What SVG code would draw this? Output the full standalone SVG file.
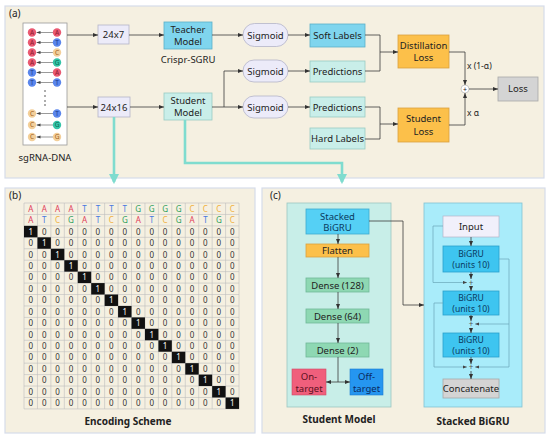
<svg xmlns="http://www.w3.org/2000/svg" width="550" height="443" viewBox="0 0 550 443">
<defs>
<marker id="ah" viewBox="0 0 10 10" refX="10" refY="5" markerWidth="5" markerHeight="5" orient="auto-start-reverse" markerUnits="userSpaceOnUse"><path d="M0,1 L10,5 L0,9 z" fill="#333"/></marker>
<marker id="ahs" viewBox="0 0 10 10" refX="10" refY="5" markerWidth="4" markerHeight="4" orient="auto-start-reverse" markerUnits="userSpaceOnUse"><path d="M0,1 L10,5 L0,9 z" fill="#444"/></marker>
<marker id="tah" viewBox="0 0 10 10" refX="8" refY="5" markerWidth="4" markerHeight="4" orient="auto"><path d="M0,0 L10,5 L0,10 z" fill="#7fdccf"/></marker>
</defs>
<style>
text{font-family:"Noto Sans","Open Sans","DejaVu Sans",sans-serif;fill:#222;}
.t{font-size:9.5px;text-anchor:middle;}
.u{font-size:8.6px;text-anchor:middle;fill:#0a3a60;}
.s{font-size:8.5px;text-anchor:middle;}
.lbl{font-size:10px;}
.b{font-size:10px;font-weight:bold;text-anchor:middle;}
.panel{fill:#f5f0e1;stroke:#d6dcea;stroke-width:1.2;}
.ln{fill:none;stroke:#3a3a3a;stroke-width:0.8;}
.la{fill:none;stroke:#3a3a3a;stroke-width:0.8;marker-end:url(#ah);}
.ska{fill:none;stroke:#6aa8b8;stroke-width:0.7;marker-end:url(#ahs);}
.teal{fill:none;stroke:#7fdccf;stroke-width:2.6;marker-end:url(#tah);}
.lav{fill:#ecebf9;stroke:#b4b4c8;stroke-width:0.8;}
.blue{fill:#7fd5ee;stroke:#5ab0c8;stroke-width:0.8;}
.mint{fill:#c9eee9;stroke:#98cbc3;stroke-width:0.8;}
.org{fill:#fcc04a;stroke:#d9a040;stroke-width:0.8;}
.grey{fill:#d4d4d4;stroke:#a8a8a8;stroke-width:0.8;}
.dense{fill:#8ed8b3;stroke:#70b898;stroke-width:0.8;}
.bigru{fill:#3ec5f0;stroke:#2aa0cc;stroke-width:0.8;}
.cA{fill:#ea5a72;} .cT{fill:#5a86ec;} .cC{fill:#f3cf9a;} .cG{fill:#34c4a8;}
.xA{fill:#e0405a;} .xT{fill:#4878e0;} .xG{fill:#30a060;} .xC{fill:#f0b040;}
.cl{font-size:6.5px;text-anchor:middle;}
.cell{font-size:8px;text-anchor:middle;fill:#333;}
.one{fill:#fff;}
.dl{stroke:#555;stroke-width:0.6;fill:none;marker-start:url(#ahs);}
</style>

<g id="panel-a">
<rect class="panel" x="5" y="6" width="539" height="172"/>
<text class="lbl" x="9" y="17">(a)</text>
</g>
<g id="panel-b">
<rect class="panel" x="5" y="188" width="250" height="245"/>
<text class="lbl" x="9" y="199">(b)</text>
</g>
<g id="panel-c">
<rect class="panel" x="262" y="188" width="283" height="245"/>
<text class="lbl" x="270" y="199">(c)</text>
</g>

<g id="sgRNA-DNA">
<rect x="23" y="23" width="44" height="122" fill="#fff" stroke="#9a9a9a" stroke-width="0.8"/>
<g>
<line class="dl" x1="36.5" y1="32.5" x2="53" y2="32.5"/>
<line class="dl" x1="36.5" y1="42.5" x2="53" y2="42.5"/>
<line class="dl" x1="36.5" y1="52.5" x2="53" y2="52.5"/>
<line class="dl" x1="36.5" y1="62.5" x2="53" y2="62.5"/>
<line class="dl" x1="36.5" y1="72.5" x2="53" y2="72.5"/>
<line class="dl" x1="36.5" y1="82.5" x2="53" y2="82.5"/>
<line class="dl" x1="36.5" y1="113.5" x2="53" y2="113.5"/>
<line class="dl" x1="36.5" y1="125" x2="53" y2="125"/>
<line class="dl" x1="36.5" y1="137" x2="53" y2="137"/>
</g>
<circle class="cA" cx="32" cy="32.5" r="4.2"/><circle class="cA" cx="57" cy="32.5" r="4.2"/>
<circle class="cA" cx="32" cy="42.5" r="4.2"/><circle class="cT" cx="57" cy="42.5" r="4.2"/>
<circle class="cA" cx="32" cy="52.5" r="4.2"/><circle class="cC" cx="57" cy="52.5" r="4.2"/>
<circle class="cA" cx="32" cy="62.5" r="4.2"/><circle class="cG" cx="57" cy="62.5" r="4.2"/>
<circle class="cT" cx="32" cy="72.5" r="4.2"/><circle class="cA" cx="57" cy="72.5" r="4.2"/>
<circle class="cT" cx="32" cy="82.5" r="4.2"/><circle class="cT" cx="57" cy="82.5" r="4.2"/>
<circle class="cC" cx="32" cy="113.5" r="4.2"/><circle class="cT" cx="57" cy="113.5" r="4.2"/>
<circle class="cC" cx="32" cy="125" r="4.2"/><circle class="cG" cx="57" cy="125" r="4.2"/>
<circle class="cC" cx="32" cy="137" r="4.2"/><circle class="cC" cx="57" cy="137" r="4.2"/>
<g fill="#444">
<circle cx="45" cy="91" r="0.8"/><circle cx="45" cy="96" r="0.8"/><circle cx="45" cy="101" r="0.8"/><circle cx="45" cy="105" r="0.8"/>
</g>
<text class="cl" style="fill:#8a1a30" x="32" y="34.8">A</text><text class="cl" style="fill:#8a1a30" x="57" y="34.8">A</text>
<text class="cl" style="fill:#8a1a30" x="32" y="44.8">A</text><text class="cl" style="fill:#1a3a8a" x="57" y="44.8">T</text>
<text class="cl" style="fill:#8a1a30" x="32" y="54.8">A</text><text class="cl" style="fill:#a06020" x="57" y="54.8">C</text>
<text class="cl" style="fill:#8a1a30" x="32" y="64.8">A</text><text class="cl" style="fill:#0a6a50" x="57" y="64.8">G</text>
<text class="cl" style="fill:#1a3a8a" x="32" y="74.8">T</text><text class="cl" style="fill:#8a1a30" x="57" y="74.8">A</text>
<text class="cl" style="fill:#1a3a8a" x="32" y="84.8">T</text><text class="cl" style="fill:#1a3a8a" x="57" y="84.8">T</text>
<text class="cl" style="fill:#a06020" x="32" y="115.8">C</text><text class="cl" style="fill:#1a3a8a" x="57" y="115.8">T</text>
<text class="cl" style="fill:#a06020" x="32" y="127.3">C</text><text class="cl" style="fill:#0a6a50" x="57" y="127.3">G</text>
<text class="cl" style="fill:#a06020" x="32" y="139.3">C</text><text class="cl" style="fill:#a06020" x="57" y="139.3">G</text>
<text class="t" x="45" y="161">sgRNA-DNA</text>
</g>

<g id="in-24x7"><rect class="lav" x="98" y="25" width="31" height="19"/><text class="t" x="113.5" y="38.3">24x7</text></g>
<g id="in-24x16"><rect class="lav" x="98" y="97" width="32" height="20"/><text class="t" x="114" y="110.5">24x16</text></g>
<g id="teacher"><rect class="blue" x="164" y="22" width="48" height="27"/><text class="t" x="188" y="33">Teacher</text><text class="t" x="188" y="45">Model</text>
<text class="t" x="188" y="63">Crispr-SGRU</text></g>
<g id="student"><rect class="mint" x="164" y="93" width="48" height="27"/><text class="t" x="188" y="104">Student</text><text class="t" x="188" y="116">Model</text></g>
<g id="sigmoid1"><rect class="lav" x="243" y="23.5" width="45" height="23" rx="11.5"/><text class="t" x="265.5" y="38.5">Sigmoid</text></g>
<g id="sigmoid2"><rect class="lav" x="243" y="60" width="45" height="22" rx="11"/><text class="t" x="265.5" y="74.5">Sigmoid</text></g>
<g id="sigmoid3"><rect class="lav" x="243" y="96" width="45" height="22" rx="11"/><text class="t" x="265.5" y="110.5">Sigmoid</text></g>
<g id="soft-labels"><rect class="blue" x="310" y="24" width="55" height="23"/><text class="t" x="337.5" y="38.8">Soft Labels</text></g>
<g id="predictions1"><rect class="mint" x="310" y="61" width="55" height="21"/><text class="t" x="337.5" y="74.8">Predictions</text></g>
<g id="predictions2"><rect class="mint" x="310" y="97" width="55" height="20"/><text class="t" x="337.5" y="110.5">Predictions</text></g>
<g id="hard-labels"><rect class="mint" x="310" y="128" width="55" height="21"/><text class="t" x="337.5" y="141.8">Hard Labels</text></g>
<g id="distillation-loss"><rect class="org" x="398" y="35" width="51" height="33"/><text class="t" x="423.5" y="49">Distillation</text><text class="t" x="423.5" y="61">Loss</text></g>
<g id="student-loss"><rect class="org" x="398" y="108" width="51" height="34"/><text class="t" x="423.5" y="122">Student</text><text class="t" x="423.5" y="134.5">Loss</text></g>
<g id="sum"><circle cx="465" cy="89" r="4" fill="#fff" stroke="#aaa" stroke-width="0.6"/><text class="s" x="465" y="91.5" style="font-size:7px">+</text>
<text x="467" y="69" style="font-size:8.5px">x (1-α)</text><text x="467" y="116" style="font-size:8.5px">x α</text></g>
<g id="loss"><rect class="grey" x="498" y="77" width="40" height="24"/><text class="t" x="518" y="92.3">Loss</text></g>

<g id="grid">
<path fill="none" stroke="#bdbdbd" stroke-width="0.6" d="M24,203V408.9 M37.44,203V408.9 M50.88,203V408.9 M64.32,203V408.9 M77.76,203V408.9 M91.2,203V408.9 M104.64,203V408.9 M118.08,203V408.9 M131.52,203V408.9 M144.96,203V408.9 M158.4,203V408.9 M171.84,203V408.9 M185.28,203V408.9 M198.72,203V408.9 M212.16,203V408.9 M225.6,203V408.9 M239.04,203V408.9 M24,203H239 M24,214.44H239 M24,225.88H239 M24,237.32H239 M24,248.76H239 M24,260.2H239 M24,271.64H239 M24,283.08H239 M24,294.52H239 M24,305.96H239 M24,317.4H239 M24,328.84H239 M24,340.28H239 M24,351.72H239 M24,363.16H239 M24,374.6H239 M24,386.04H239 M24,397.48H239 M24,408.92H239"/>
<g fill="#111">
<rect x="24" y="225.88" width="13.44" height="11.44"/>
<rect x="37.44" y="237.32" width="13.44" height="11.44"/>
<rect x="50.88" y="248.76" width="13.44" height="11.44"/>
<rect x="64.32" y="260.2" width="13.44" height="11.44"/>
<rect x="77.76" y="271.64" width="13.44" height="11.44"/>
<rect x="91.2" y="283.08" width="13.44" height="11.44"/>
<rect x="104.64" y="294.52" width="13.44" height="11.44"/>
<rect x="118.08" y="305.96" width="13.44" height="11.44"/>
<rect x="131.52" y="317.4" width="13.44" height="11.44"/>
<rect x="144.96" y="328.84" width="13.44" height="11.44"/>
<rect x="158.4" y="340.28" width="13.44" height="11.44"/>
<rect x="171.84" y="351.72" width="13.44" height="11.44"/>
<rect x="185.28" y="363.16" width="13.44" height="11.44"/>
<rect x="198.72" y="374.6" width="13.44" height="11.44"/>
<rect x="212.16" y="386.04" width="13.44" height="11.44"/>
<rect x="225.6" y="397.48" width="13.44" height="11.44"/>
</g>
<text class="cell" x="30.7 44.2 57.6 71 84.5 97.9 111.4 124.8 138.2 151.7 165.1 178.6 192 205.4 218.9 232.3" y="211.8"><tspan class="xA">AAAA</tspan><tspan class="xT">TTTT</tspan><tspan class="xG">GGGG</tspan><tspan class="xC">CCCC</tspan></text>
<text class="cell" x="30.7 44.2 57.6 71 84.5 97.9 111.4 124.8 138.2 151.7 165.1 178.6 192 205.4 218.9 232.3" y="223.2"><tspan class="xA">A</tspan><tspan class="xT">T</tspan><tspan class="xC">C</tspan><tspan class="xG">G</tspan><tspan class="xA">A</tspan><tspan class="xT">T</tspan><tspan class="xC">C</tspan><tspan class="xG">G</tspan><tspan class="xA">A</tspan><tspan class="xT">T</tspan><tspan class="xC">C</tspan><tspan class="xG">G</tspan><tspan class="xA">A</tspan><tspan class="xT">T</tspan><tspan class="xG">G</tspan><tspan class="xC">C</tspan></text>
<g class="rows">
<text class="cell" x="30.7 44.2 57.6 71 84.5 97.9 111.4 124.8 138.2 151.7 165.1 178.6 192 205.4 218.9 232.3" y="234.6"><tspan class="one">1</tspan>000000000000000</text>
<text class="cell" x="30.7 44.2 57.6 71 84.5 97.9 111.4 124.8 138.2 151.7 165.1 178.6 192 205.4 218.9 232.3" y="246.0">0<tspan class="one">1</tspan>00000000000000</text>
<text class="cell" x="30.7 44.2 57.6 71 84.5 97.9 111.4 124.8 138.2 151.7 165.1 178.6 192 205.4 218.9 232.3" y="257.5">00<tspan class="one">1</tspan>0000000000000</text>
<text class="cell" x="30.7 44.2 57.6 71 84.5 97.9 111.4 124.8 138.2 151.7 165.1 178.6 192 205.4 218.9 232.3" y="268.9">000<tspan class="one">1</tspan>000000000000</text>
<text class="cell" x="30.7 44.2 57.6 71 84.5 97.9 111.4 124.8 138.2 151.7 165.1 178.6 192 205.4 218.9 232.3" y="280.4">0000<tspan class="one">1</tspan>00000000000</text>
<text class="cell" x="30.7 44.2 57.6 71 84.5 97.9 111.4 124.8 138.2 151.7 165.1 178.6 192 205.4 218.9 232.3" y="291.8">00000<tspan class="one">1</tspan>0000000000</text>
<text class="cell" x="30.7 44.2 57.6 71 84.5 97.9 111.4 124.8 138.2 151.7 165.1 178.6 192 205.4 218.9 232.3" y="303.2">000000<tspan class="one">1</tspan>000000000</text>
<text class="cell" x="30.7 44.2 57.6 71 84.5 97.9 111.4 124.8 138.2 151.7 165.1 178.6 192 205.4 218.9 232.3" y="314.7">0000000<tspan class="one">1</tspan>00000000</text>
<text class="cell" x="30.7 44.2 57.6 71 84.5 97.9 111.4 124.8 138.2 151.7 165.1 178.6 192 205.4 218.9 232.3" y="326.1">00000000<tspan class="one">1</tspan>0000000</text>
<text class="cell" x="30.7 44.2 57.6 71 84.5 97.9 111.4 124.8 138.2 151.7 165.1 178.6 192 205.4 218.9 232.3" y="337.6">000000000<tspan class="one">1</tspan>000000</text>
<text class="cell" x="30.7 44.2 57.6 71 84.5 97.9 111.4 124.8 138.2 151.7 165.1 178.6 192 205.4 218.9 232.3" y="349.0">0000000000<tspan class="one">1</tspan>00000</text>
<text class="cell" x="30.7 44.2 57.6 71 84.5 97.9 111.4 124.8 138.2 151.7 165.1 178.6 192 205.4 218.9 232.3" y="360.4">00000000000<tspan class="one">1</tspan>0000</text>
<text class="cell" x="30.7 44.2 57.6 71 84.5 97.9 111.4 124.8 138.2 151.7 165.1 178.6 192 205.4 218.9 232.3" y="371.9">000000000000<tspan class="one">1</tspan>000</text>
<text class="cell" x="30.7 44.2 57.6 71 84.5 97.9 111.4 124.8 138.2 151.7 165.1 178.6 192 205.4 218.9 232.3" y="383.3">0000000000000<tspan class="one">1</tspan>00</text>
<text class="cell" x="30.7 44.2 57.6 71 84.5 97.9 111.4 124.8 138.2 151.7 165.1 178.6 192 205.4 218.9 232.3" y="394.8">00000000000000<tspan class="one">1</tspan>0</text>
<text class="cell" x="30.7 44.2 57.6 71 84.5 97.9 111.4 124.8 138.2 151.7 165.1 178.6 192 205.4 218.9 232.3" y="406.2">000000000000000<tspan class="one">1</tspan></text>
</g>
<text class="b" x="128" y="425">Encoding Scheme</text>
</g>

<g id="student-model">
<rect x="287" y="203" width="104" height="204" fill="#c8eee8" stroke="#9cc6c0" stroke-width="0.8"/>
<g id="sm-stacked"><rect x="306" y="209" width="63" height="25" fill="#55d0f5" stroke="#3eaad0" stroke-width="0.8"/><text class="t" x="337.5" y="219.5" style="fill:#0a3a60">Stacked</text><text class="t" x="337.5" y="231" style="fill:#0a3a60">BiGRU</text></g>
<g id="sm-flatten"><rect class="org" x="306" y="244" width="63" height="13"/><text class="t" x="337.5" y="254">Flatten</text></g>
<g id="sm-dense128"><rect class="dense" x="306" y="278" width="63" height="14"/><text class="t" x="337.5" y="288.5">Dense (128)</text></g>
<g id="sm-dense64"><rect class="dense" x="306" y="309" width="63" height="14"/><text class="t" x="337.5" y="319.5">Dense (64)</text></g>
<g id="sm-dense2"><rect class="dense" x="306" y="343" width="63" height="14"/><text class="t" x="337.5" y="353.5">Dense (2)</text></g>
<g id="on-target"><rect x="292" y="369" width="34" height="26" fill="#f05f7c" stroke="#d04a66" stroke-width="0.6"/><text class="t" x="309" y="380" style="fill:#5a1020">On-</text><text class="t" x="309" y="391.5" style="fill:#5a1020">target</text></g>
<g id="off-target"><rect x="350" y="369" width="33" height="26" fill="#2596f0" stroke="#1a7ad0" stroke-width="0.6"/><text class="t" x="366.5" y="380" style="fill:#0a2a60">Off-</text><text class="t" x="366.5" y="391.5" style="fill:#0a2a60">target</text></g>
<text class="b" x="339" y="423">Student Model</text>
</g>

<g id="stacked-bigru">
<rect x="424" y="203" width="98" height="204" fill="#a9ecfa" stroke="#82c2d2" stroke-width="0.8"/>
<g id="sb-input"><rect x="443" y="216" width="56" height="21" fill="#f1f0fb" stroke="#b4b4c8" stroke-width="0.7"/><text class="t" x="471" y="230">Input</text></g>
<g id="sb-bigru1"><rect class="bigru" x="443" y="246" width="56" height="26"/><text class="u" x="471" y="257">BiGRU</text><text class="u" x="471" y="268">(units 10)</text></g>
<g id="sb-bigru2"><rect class="bigru" x="443" y="291" width="56" height="24"/><text class="u" x="471" y="301">BiGRU</text><text class="u" x="471" y="312">(units 10)</text></g>
<g id="sb-bigru3"><rect class="bigru" x="443" y="333" width="56" height="24"/><text class="u" x="471" y="343">BiGRU</text><text class="u" x="471" y="354">(units 10)</text></g>
<g id="sb-concat"><rect class="grey" x="443" y="379" width="56" height="19"/><text class="t" x="471" y="392">Concatenate</text></g>
<g id="sb-plus"><text class="s" x="471" y="285.5" style="font-size:8px;fill:#555">+</text><text class="s" x="471" y="327" style="font-size:8px;fill:#555">+</text><text class="s" x="471" y="370" style="font-size:8px;fill:#555">+</text></g>
<text class="b" x="473" y="425">Stacked BiGRU</text>
</g>

<g id="connectors">
<line class="la" x1="67" y1="35" x2="98" y2="35"/>
<line class="la" x1="67" y1="107" x2="98" y2="107"/>
<line class="la" x1="129" y1="35" x2="164" y2="35"/>
<line class="la" x1="130" y1="107" x2="164" y2="107"/>
<line class="la" x1="212" y1="35" x2="243" y2="35"/>
<path class="ln" d="M212,107 H224 M224,71 V107"/>
<line class="la" x1="224" y1="71" x2="243" y2="71"/>
<line class="la" x1="224" y1="107" x2="243" y2="107"/>
<line class="la" x1="288" y1="35" x2="310" y2="35"/>
<line class="la" x1="288" y1="71" x2="310" y2="71"/>
<line class="la" x1="288" y1="107" x2="310" y2="107"/>
<path class="ln" d="M365,35 H380 V71 H365"/>
<line class="la" x1="380" y1="52" x2="398" y2="52"/>
<path class="ln" d="M365,107 H380 V139 H365"/>
<line class="la" x1="380" y1="124" x2="398" y2="124"/>
<path class="la" d="M449,52 H465 V85"/>
<path class="la" d="M449,125 H465 V93"/>
<line class="la" x1="469" y1="89" x2="498" y2="89"/>
<path class="teal" d="M114,117 V182"/>
<path class="teal" d="M185,120 V163 H342 V182"/>
<line class="la" x1="338" y1="234" x2="338" y2="244"/>
<line class="la" x1="338" y1="257" x2="338" y2="278"/>
<line class="la" x1="338" y1="292" x2="338" y2="309"/>
<line class="la" x1="338" y1="323" x2="338" y2="343"/>
<path class="ln" d="M338,357 V382"/>
<line class="la" x1="338" y1="382" x2="326" y2="382"/>
<line class="la" x1="338" y1="382" x2="350" y2="382"/>
<path class="la" d="M369,221 H403 V305 H424"/>
<line class="la" x1="471" y1="237" x2="471" y2="246"/>
<line class="la" x1="471" y1="272" x2="471" y2="279"/>
<line class="la" x1="471" y1="286" x2="471" y2="291"/>
<line class="la" x1="471" y1="315" x2="471" y2="321"/>
<line class="la" x1="471" y1="328" x2="471" y2="333"/>
<line class="la" x1="471" y1="357" x2="471" y2="364"/>
<line class="la" x1="471" y1="371" x2="471" y2="379"/>
<path class="ska" d="M443,226 H433 V282.5 H467"/>
<path class="ska" d="M499,259 H509 V324 H475"/>
<path class="ska" d="M443,303 H434 V367 H467"/>
<path class="ska" d="M509,324 V367 H475"/>
</g>
</svg>
